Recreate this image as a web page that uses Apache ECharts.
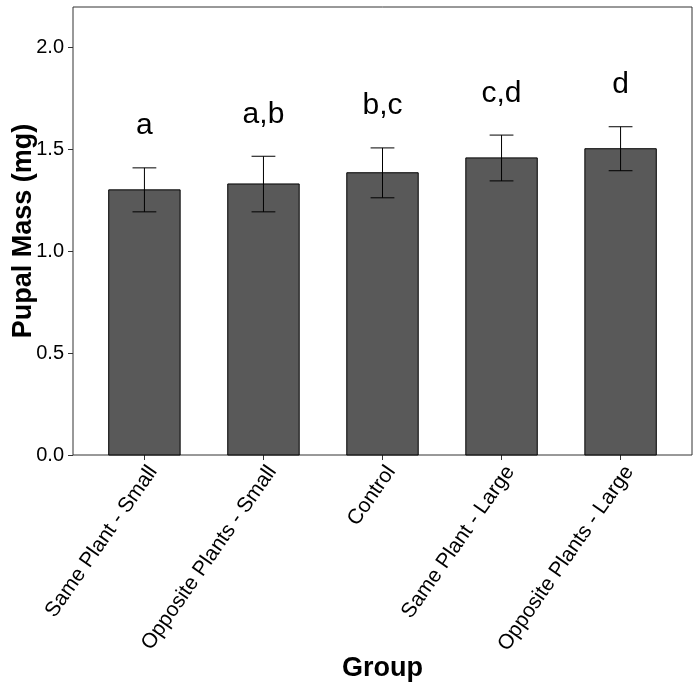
<!DOCTYPE html>
<html>
<head>
<meta charset="utf-8">
<script src="https://cdn.jsdelivr.net/npm/echarts@6/dist/echarts.min.js"></script>
<style>
html,body{margin:0;padding:0;background:#fff;}
#chart{width:700px;height:692px;}
</style>
</head>
<body>
<div id="chart"></div>
<script>
// ---- data ----
var categories = ['Same Plant - Small', 'Opposite Plants - Small', 'Control', 'Same Plant - Large', 'Opposite Plants - Large'];
var means  = [1.302, 1.331, 1.386, 1.459, 1.504];
var lower  = [1.194, 1.194, 1.263, 1.346, 1.396];
var upper  = [1.410, 1.467, 1.508, 1.571, 1.612];
var letters = ['a', 'a,b', 'b,c', 'c,d', 'd'];
var yTicks = [0, 0.5, 1.0, 1.5, 2.0];

var FONT = '"Liberation Sans", Arial, sans-serif';
var chart = echarts.init(document.getElementById('chart'), null, {renderer: 'canvas'});

var seriesData = categories.map(function (c, i) {
  return [i, means[i], lower[i], upper[i]];
});
var xPos = categories.map(function (c, i) { return i; });

var option = {
  animation: false,
  backgroundColor: '#ffffff',
  grid: {
    left: 73, right: 8, top: 7, bottom: 237,
    containLabel: false,
    outerBoundsMode: 'none',
    show: true, borderColor: '#333333', borderWidth: 1, backgroundColor: 'transparent'
  },
  xAxis: {
    type: 'value',
    min: -0.6, max: 4.6,
    name: 'Group',
    nameLocation: 'middle',
    nameGap: 200,
    nameMoveOverlap: false,
    nameTextStyle: {fontFamily: FONT, fontSize: 27, fontWeight: 'bold', color: '#000'},
    axisLine: {show: false, onZero: false},
    splitLine: {show: false},
    axisTick: {show: true, length: 5, lineStyle: {color: '#333333'}, customValues: xPos},
    axisLabel: {
      customValues: xPos,
      formatter: function (v) { return categories[Math.round(v)]; },
      rotate: 55,
      align: 'right',
      verticalAlign: 'top',
      margin: 7,
      fontFamily: FONT, fontSize: 21, color: '#000'
    }
  },
  yAxis: {
    type: 'value',
    min: 0, max: 2.2,
    name: 'Pupal Mass (mg)',
    nameLocation: 'middle',
    nameGap: 36,
    nameMoveOverlap: false,
    nameTextStyle: {fontFamily: FONT, fontSize: 27, fontWeight: 'bold', color: '#000'},
    axisLine: {show: false, onZero: false},
    splitLine: {show: false},
    axisTick: {show: true, length: 5, lineStyle: {color: '#333333'}, customValues: yTicks},
    axisLabel: {
      customValues: yTicks,
      formatter: function (v) { return v.toFixed(1); },
      margin: 9,
      fontFamily: FONT, fontSize: 20, color: '#000'
    }
  },
  series: [{
    type: 'custom',
    data: seriesData,
    encode: {x: 0, y: 1},
    clip: false,
    z: 1,
    renderItem: function (params, api) {
      var i = api.value(0);
      var m = api.value(1), lo = api.value(2), hi = api.value(3);
      var lab = letters[params.dataIndex];
      var base = api.coord([i, 0]);
      var top = api.coord([i, m]);
      var barW = api.size([0.6, 0])[0];
      var capW = api.size([0.2, 0])[0];
      var pLo = api.coord([i, lo]);
      var pHi = api.coord([i, hi]);
      var pTxt = api.coord([i, hi + 0.205]);
      return {
        type: 'group',
        children: [
          {type: 'rect', shape: {x: base[0] - barW / 2, y: top[1], width: barW, height: base[1] - top[1]},
           style: {fill: '#595959', stroke: '#000', lineWidth: 1}},
          {type: 'line', shape: {x1: pLo[0], y1: pLo[1], x2: pHi[0], y2: pHi[1]}, style: {stroke: '#000', lineWidth: 1}},
          {type: 'line', shape: {x1: pHi[0] - capW / 2, y1: pHi[1], x2: pHi[0] + capW / 2, y2: pHi[1]}, style: {stroke: '#000', lineWidth: 1}},
          {type: 'line', shape: {x1: pLo[0] - capW / 2, y1: pLo[1], x2: pLo[0] + capW / 2, y2: pLo[1]}, style: {stroke: '#000', lineWidth: 1}},
          {type: 'text', x: pTxt[0], y: pTxt[1],
           style: {text: lab, fill: '#000', font: '30px ' + FONT, align: 'center', verticalAlign: 'middle'}}
        ]
      };
    }
  }]
};
chart.setOption(option);
</script>
</body>
</html>
